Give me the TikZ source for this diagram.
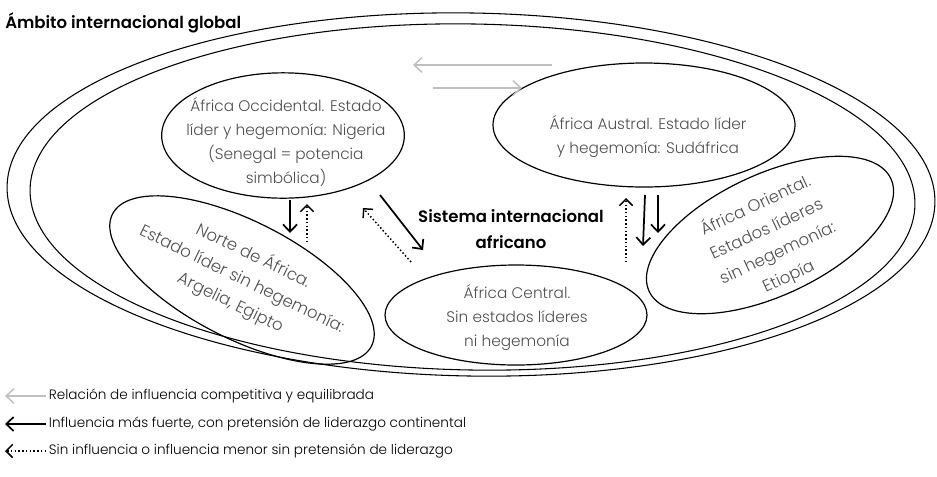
\documentclass[tikz,border=0pt]{standalone}
\usepackage{fontspec}
\setmainfont{Poppins}[UprightFont={* Light},BoldFont={* SemiBold}]
\usetikzlibrary{arrows.meta,positioning,shapes.geometric}
\definecolor{regionInk}{RGB}{80,80,80}
\definecolor{evenGray}{RGB}{192,192,192}
\tikzset{
  ring/.style={draw, line width=0.8pt},
  region/.style={ellipse, draw, line width=0.9pt, inner sep=0pt},
  regiontext/.style={align=center, text=regionInk, inner sep=0pt, font=\fontsize{11.5}{18}\selectfont},
  tilttext/.style={regiontext, font=\fontsize{12.4}{19.5}\selectfont},
  headtext/.style={inner sep=0pt, font=\bfseries\fontsize{12.4}{20}\selectfont},
  legendtext/.style={inner sep=0pt, anchor=west, font=\fontsize{10.2}{12}\selectfont},
  strongflow/.style={-{Straight Barb[length=5.5pt,width=10.5pt,line width=1.3pt]}, line width=1.3pt},
  weakflow/.style={-{Straight Barb[length=5pt,width=10pt,line width=1.1pt]}, line width=1.1pt, dash pattern=on 1.1pt off 1.7pt},
  evenflow/.style={-{Straight Barb[length=6pt,width=11pt,line width=1.1pt]}, line width=1.1pt, draw=evenGray}
}
\begin{document}
\begin{tikzpicture}[x=0.75pt, y=-0.75pt]
  \useasboundingbox (0,0) rectangle (937,476);
  % global and continental rings
  \draw[ring, rotate around={-1:(471,194.5)}] (471,194.5) ellipse [x radius=464, y radius=181.5];
  \draw[ring, rotate around={-1:(472.5,197)}] (472.5,197) ellipse [x radius=442.5, y radius=173];
  \node[headtext, anchor=base west] (ambito) at (5,28) {Ámbito internacional global};

  % regions
  \node[region, minimum width=182pt, minimum height=94pt] (occ) at (283,135.5) {};
  \node[region, minimum width=226.5pt, minimum height=93pt] (aus) at (644,125) {};
  \node[region, minimum width=196.5pt, minimum height=75pt] (cen) at (516,315) {};
  \node[region, minimum width=218pt, minimum height=88pt, rotate=-27] (nor) at (242,280) {};
  \node[region, minimum width=200pt, minimum height=91pt, rotate=25] (ori) at (770,235) {};

  \node[regiontext] (occT) at (286,142) {África Occidental. Estado\\líder y hegemonía: Nigeria\\(Senegal = potencia\\simbólica)};
  \node[regiontext] (ausT) at (648,137) {África Austral. Estado líder\\y hegemonía: Sudáfrica};
  \node[regiontext] (cenT) at (517,318) {África Central.\\Sin estados líderes\\ni hegemonía};
  \node[tilttext, rotate=-26] (norT) at (242,279) {Norte de África.\\Estado líder sin hegemonía:\\Argelia, Egipto};
  \node[tilttext, rotate=25] (oriT) at (772,241) {África Oriental.\\Estados líderes\\sin hegemonía:\\Etiopía};

  \node[headtext, align=center] (sistema) at (511,229) {Sistema internacional\\africano};

  % arrow ends
  \coordinate (evenA) at (552,65);
  \coordinate (evenB) at (413,65);
  \coordinate (evenC) at (433,88);
  \coordinate (evenD) at (522,88);
  \coordinate (occS) at (290,200);
  \coordinate (norN) at (290,233);
  \coordinate (norU) at (307,242);
  \coordinate (occU) at (307,204);
  \coordinate (occE) at (380,195);
  \coordinate (cenW) at (423,250);
  \coordinate (cenU) at (411,262);
  \coordinate (occD) at (363,208);
  \coordinate (cenN) at (626,262);
  \coordinate (ausD) at (626,198);
  \coordinate (ausS) at (645,195);
  \coordinate (cenE) at (643,246);
  \coordinate (ausR) at (658,195);
  \coordinate (oriN) at (658,233);

  \draw[evenflow] (evenA) -- (evenB);
  \draw[evenflow] (evenC) -- (evenD);
  \draw[strongflow] (occS) -- (norN);
  \draw[weakflow] (norU) -- (occU);
  \draw[strongflow] (occE) -- (cenW);
  \draw[weakflow] (cenU) -- (occD);
  \draw[weakflow] (cenN) -- (ausD);
  \draw[strongflow] (ausS) -- (cenE);
  \draw[strongflow] (ausR) -- (oriN);

  % legend
  \coordinate (keyA) at (46,396);
  \coordinate (keyB) at (46,424);
  \coordinate (keyC) at (46,451);
  \coordinate (tipA) at (5,396);
  \coordinate (tipB) at (5,424);
  \coordinate (tipC) at (5,451);
  \draw[evenflow] (keyA) -- (tipA);
  \draw[strongflow, line width=1pt] (keyB) -- (tipB);
  \draw[weakflow, line width=1pt] (keyC) -- (tipC);
  \node[legendtext, right=2pt of keyA] (keyTA) {Relación de influencia competitiva y equilibrada};
  \node[legendtext, right=2pt of keyB] (keyTB) {Influencia más fuerte, con pretensión de liderazgo continental};
  \node[legendtext, right=2pt of keyC] (keyTC) {Sin influencia o influencia menor sin pretensión de liderazgo};
\end{tikzpicture}
\end{document}
